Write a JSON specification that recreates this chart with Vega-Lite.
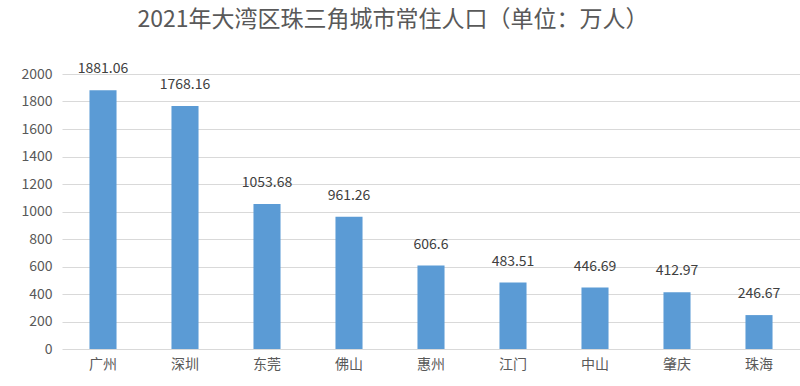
{
  "$schema": "https://vega.github.io/schema/vega-lite/v6.json",
  "autosize": {"type": "none"},
  "width": 738,
  "height": 275,
  "padding": {"left": 62, "top": 74, "right": 0, "bottom": 37},
  "background": "white",
  "title": {
    "text": "2021年大湾区珠三角城市常住人口（单位：万人）",
    "font": "Noto Sans CJK SC",
    "fontSize": 23,
    "fontWeight": "normal",
    "color": "#595959",
    "anchor": "middle",
    "frame": "group",
    "offset": 30,
    "dx": -38
  },
  "config": {
    "view": {"stroke": null},
    "font": "Noto Sans CJK SC"
  },
  "data": {
    "values": [
      {"city": "广州", "pop": 1881.06, "label": "1881.06"},
      {"city": "深圳", "pop": 1768.16, "label": "1768.16"},
      {"city": "东莞", "pop": 1053.68, "label": "1053.68"},
      {"city": "佛山", "pop": 961.26, "label": "961.26"},
      {"city": "惠州", "pop": 606.6, "label": "606.6"},
      {"city": "江门", "pop": 483.51, "label": "483.51"},
      {"city": "中山", "pop": 446.69, "label": "446.69"},
      {"city": "肇庆", "pop": 412.97, "label": "412.97"},
      {"city": "珠海", "pop": 246.67, "label": "246.67"}
    ]
  },
  "encoding": {
    "x": {
      "field": "city",
      "type": "nominal",
      "sort": null,
      "scale": {"paddingInner": 0.67, "paddingOuter": 0.335},
      "axis": {
        "title": null,
        "labelAngle": 0,
        "labelFontSize": 14,
        "labelColor": "#595959",
        "labelPadding": 8,
        "domain": false,
        "ticks": false
      }
    },
    "y": {
      "field": "pop",
      "type": "quantitative",
      "scale": {"domain": [0, 2000]},
      "axis": {
        "title": null,
        "format": "d",
        "values": [0, 200, 400, 600, 800, 1000, 1200, 1400, 1600, 1800, 2000],
        "labelFontSize": 14,
        "labelColor": "#595959",
        "labelPadding": 10,
        "domain": false,
        "ticks": false,
        "gridColor": "#d9d9d9",
        "gridWidth": 1
      }
    }
  },
  "layer": [
    {"mark": {"type": "bar", "color": "#5b9bd5"}},
    {
      "mark": {"type": "text", "dy": -14, "fontSize": 14, "color": "#404040", "baseline": "bottom"},
      "encoding": {"text": {"field": "label"}}
    }
  ]
}
